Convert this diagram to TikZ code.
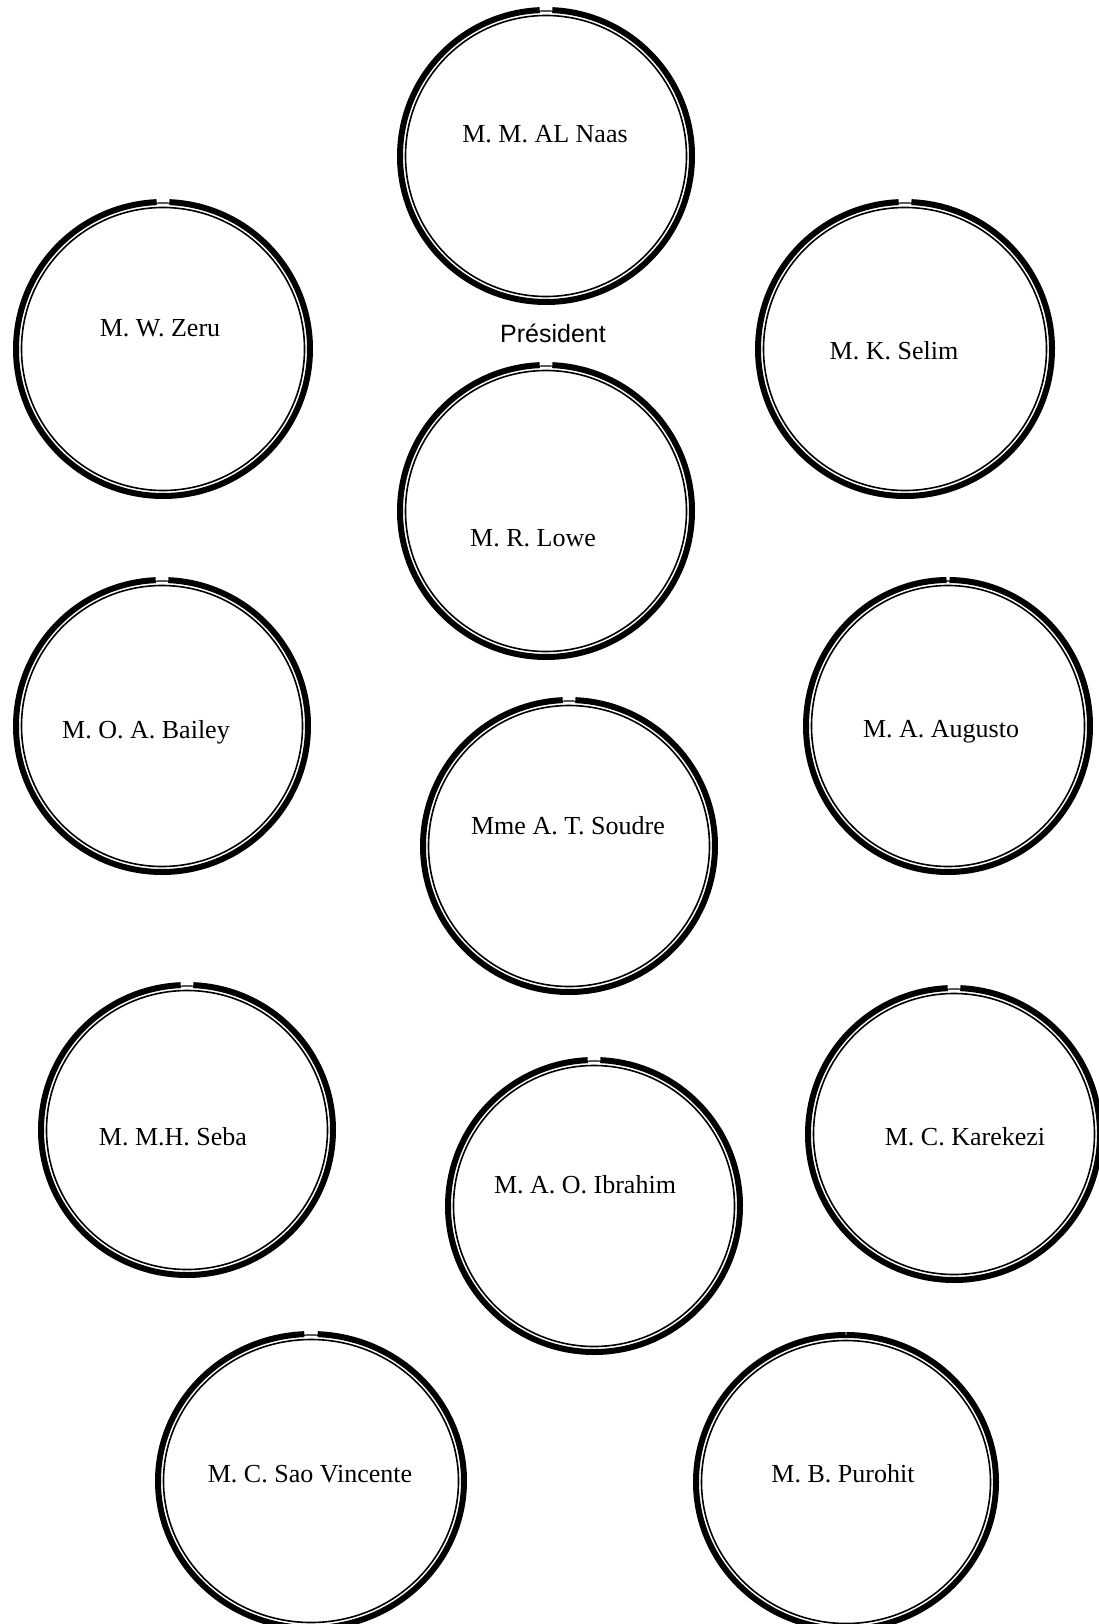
\documentclass[tikz,border=0pt]{standalone}
\usepackage{fontspec}
\setmainfont{Liberation Serif}
\newfontfamily\chairfont{Liberation Sans}

% one seat: [half gap in degrees] centre x, centre y, outer x radius, outer y radius
\newcommand{\seat}[5][2.5]{%
  \draw[ring] (#2,#3) ++({270+#1}:{#4-3} and {#5-3})
    arc[start angle={270+#1}, end angle={630-#1}, x radius={#4-3}, y radius={#5-3}];
  \draw[bridge] (#2,#3) ++({270-#1-1}:{#4-4} and {#5-4})
    arc[start angle={270-#1-1}, end angle={270+#1+1}, x radius={#4-4}, y radius={#5-4}];
  \draw[rim] (#2,#3) ellipse[x radius={#4-8.5}, y radius={#5-8.5}];
}

\begin{document}
\begin{tikzpicture}[
  x=1pt, y=-1pt,
  ring/.style={line width=6pt},
  bridge/.style={line width=1.2pt},
  rim/.style={line width=1.6pt},
  member/.style={font=\fontsize{26}{30}\selectfont, inner sep=0pt, anchor=base},
  chair/.style={font=\chairfont\fontsize{25}{30}\selectfont, inner sep=0pt, anchor=base}
]
\useasboundingbox (0,0) rectangle (1098,1624);

% seats
\seat{546}{156}{149}{149}
\seat{163}{349}{150}{150}
\seat{905}{349}{150}{150}
\seat{546}{511}{149}{149}
\seat{162}{726}{149}{149}
\seat[0.6]{948}{726}{145}{149}
\seat{569}{846}{149}{149}
\seat{187}{1130}{149}{148}
\seat{954}{1134}{149}{149}
\seat{594}{1206}{149}{149}
\seat{311}{1481}{156}{150}
\seat[0.1]{846}{1482}{153}{150}

% names
\node[member] (naas) at (545,143) {M. M. AL Naas};
\node[member] (zeru) at (160,336) {M. W. Zeru};
\node[member] (selim) at (894,359) {M. K. Selim};
\node[chair] (president) at (553,342) {Président};
\node[member] (lowe) at (533,546) {M. R. Lowe};
\node[member] (bailey) at (146,738) {M. O. A. Bailey};
\node[member] (augusto) at (941,737) {M. A. Augusto};
\node[member] (soudre) at (568,834) {Mme A. T. Soudre};
\node[member] (seba) at (173,1145) {M. M.H. Seba};
\node[member] (karekezi) at (965,1145) {M. C. Karekezi};
\node[member] (ibrahim) at (585,1193) {M. A. O. Ibrahim};
\node[member] (saovincente) at (310,1482) {M. C. Sao Vincente};
\node[member] (purohit) at (843,1482) {M. B. Purohit};

\end{tikzpicture}
\end{document}
